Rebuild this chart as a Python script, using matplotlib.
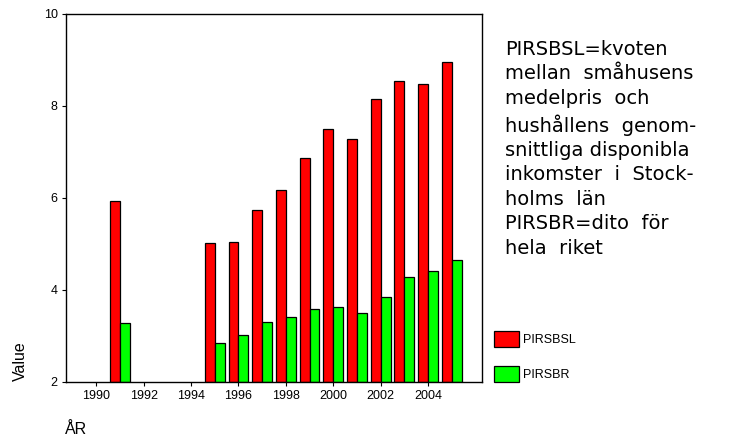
import numpy as np
import matplotlib
matplotlib.use("Agg")
import matplotlib.pyplot as plt
from matplotlib.patches import Patch

# values
years = [1991, 1995, 1996, 1997, 1998, 1999, 2000, 2001, 2002, 2003, 2004, 2005]
pirsbsl = [5.93, 5.03, 5.05, 5.74, 6.17, 6.88, 7.50, 7.29, 8.15, 8.54, 8.48, 8.96]
pirsbr = [3.28, 2.85, 3.03, 3.30, 3.41, 3.59, 3.62, 3.49, 3.85, 4.28, 4.41, 4.65]
xticks = [1990, 1992, 1994, 1996, 1998, 2000, 2002, 2004]
yticks = [2, 4, 6, 8, 10]

note = ("PIRSBSL=kvoten\n"
        "mellan  småhusens\n"
        "medelpris  och\n"
        "hushållens  genom-\n"
        "snittliga disponibla\n"
        "inkomster  i  Stock-\n"
        "holms  län\n"
        "PIRSBR=dito  för\n"
        "hela  riket")

plt.rcParams["font.family"] = ["Liberation Sans", "DejaVu Sans"]

fig = plt.figure(figsize=(7.29, 4.46), dpi=100)
ax = fig.add_axes([66 / 729, 1 - 382 / 446, (482 - 66) / 729, (382 - 14) / 446])

x = np.array(years, dtype=float)
w = 0.42
ax.bar(x - w / 2, np.array(pirsbsl) - 2, width=w, bottom=2, color="#ff0000",
       edgecolor="black", linewidth=0.9)
ax.bar(x + w / 2, np.array(pirsbr) - 2, width=w, bottom=2, color="#00ff00",
       edgecolor="black", linewidth=0.9)

ax.set_xlim(1988.72, 2006.28)
ax.set_ylim(2, 10)
ax.set_xticks(xticks)
ax.set_yticks(yticks)
ax.tick_params(direction="out", length=3, width=0.8, labelsize=9, pad=3)
for s in ax.spines.values():
    s.set_linewidth(1.0)

fig.text(20 / 729, 1 - 361 / 446, "Value", rotation=90, fontsize=11.5,
         ha="center", va="center")
fig.text(65 / 729, 1 - 430 / 446, "ÅR", fontsize=11.5, ha="left", va="center")

handles = [Patch(facecolor="#ff0000", edgecolor="black", linewidth=0.9),
           Patch(facecolor="#00ff00", edgecolor="black", linewidth=0.9)]
fig.legend(handles, ["PIRSBSL", "PIRSBR"], loc="upper left",
           bbox_to_anchor=(483 / 729, 1 - 320 / 446), frameon=False,
           fontsize=9, handlelength=2.0, handleheight=1.6,
           labelspacing=1.5, handletextpad=0.3)

fig.text(505 / 729, 1 - 40 / 446, note, fontsize=14, ha="left", va="top",
         family="DejaVu Sans", linespacing=1.36)

fig.savefig("out.png", dpi=100)
